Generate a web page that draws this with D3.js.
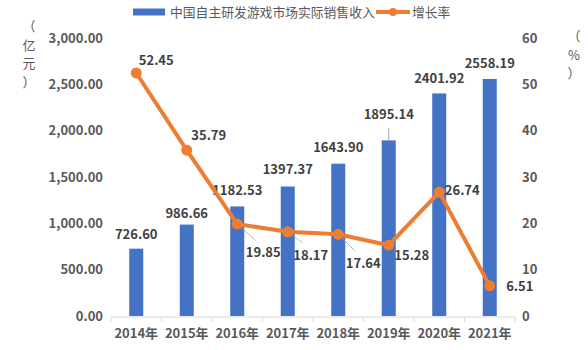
<!DOCTYPE html>
<html>
<head>
<meta charset="utf-8">
<script src="https://cdn.jsdelivr.net/npm/d3@7"></script>
<style>
  body { margin: 0; background: #fff; }
  text { font-family: "Noto Sans CJK SC", "Noto Sans", sans-serif; }
</style>
</head>
<body>
<div id="chart"></div>
<script>
// 数据
const years = ['2014年', '2015年', '2016年', '2017年', '2018年', '2019年', '2020年', '2021年'];
const revenue = [726.60, 986.66, 1182.53, 1397.37, 1643.90, 1895.14, 2401.92, 2558.19];
const growth = [52.45, 35.79, 19.85, 18.17, 17.64, 15.28, 26.74, 6.51];
const leftTicks = [0, 500, 1000, 1500, 2000, 2500, 3000];
const rightTicks = [0, 10, 20, 30, 40, 50, 60];

const width = 588, height = 350;
const margin = { top: 38, right: 73, bottom: 34, left: 111 };
const innerW = width - margin.left - margin.right;
const innerH = height - margin.top - margin.bottom;

const barColor = '#4472C4';
const lineColor = '#ED7D31';

const svg = d3.select('#chart').append('svg')
  .attr('width', width)
  .attr('height', height);

const g = svg.append('g')
  .attr('transform', `translate(${margin.left},${margin.top})`);

// 比例尺
const x = d3.scaleBand().domain(years).range([0, innerW]).paddingInner(0).paddingOuter(0);
const yL = d3.scaleLinear().domain([0, 3000]).range([innerH, 0]);
const yR = d3.scaleLinear().domain([0, 60]).range([innerH, 0]);

// 左轴
const leftAxis = g.append('g')
  .call(d3.axisLeft(yL).tickValues(leftTicks).tickSize(0).tickPadding(8)
    .tickFormat(d3.format(',.2f')));
leftAxis.select('.domain').remove();
leftAxis.selectAll('text')
  .attr('fill', '#595959').style('font-size', '13px').style('font-weight', '600');

// 右轴
const rightAxis = g.append('g')
  .attr('transform', `translate(${innerW},0)`)
  .call(d3.axisRight(yR).tickValues(rightTicks).tickSize(0).tickPadding(7));
rightAxis.select('.domain').remove();
rightAxis.selectAll('text')
  .attr('fill', '#595959').style('font-size', '13px').style('font-weight', '600');

// x 轴
const xAxis = g.append('g')
  .attr('transform', `translate(0,${innerH + 1})`);
xAxis.append('line')
  .attr('x1', 0).attr('x2', innerW)
  .attr('stroke', '#d9d9d9');
xAxis.selectAll('.tk')
  .data(d3.range(years.length + 1))
  .join('line')
  .attr('class', 'tk')
  .attr('x1', i => i * x.bandwidth()).attr('x2', i => i * x.bandwidth())
  .attr('y1', 0).attr('y2', 5)
  .attr('stroke', '#d9d9d9');
xAxis.selectAll('text')
  .data(years)
  .join('text')
  .attr('x', d => x(d) + x.bandwidth() / 2)
  .attr('y', 21)
  .attr('text-anchor', 'middle')
  .attr('fill', '#595959')
  .style('font-size', '13px')
  .style('font-weight', '600')
  .text(d => d);

// 柱子
const barW = 14;
g.selectAll('.bar')
  .data(revenue)
  .join('rect')
  .attr('class', 'bar')
  .attr('x', (d, i) => x(years[i]) + x.bandwidth() / 2 - barW / 2)
  .attr('y', d => yL(d))
  .attr('width', barW)
  .attr('height', d => innerH - yL(d))
  .attr('fill', barColor);

// 柱子标签
const barLabelDy = [-10, -7, -11, -13, -12, -13, -10, -11];
g.selectAll('.bar-label')
  .data(revenue)
  .join('text')
  .attr('class', 'bar-label')
  .attr('x', (d, i) => x(years[i]) + x.bandwidth() / 2)
  .attr('y', (d, i) => yL(d) + barLabelDy[i] - (i === 5 ? 8 : 0))
  .attr('text-anchor', 'middle')
  .attr('fill', '#404040')
  .style('font-size', '13px')
  .style('font-weight', '600')
  .text(d => d.toFixed(2));

// 1895.14 引导线
g.append('line')
  .attr('x1', x(years[5]) + x.bandwidth() / 2)
  .attr('x2', x(years[5]) + x.bandwidth() / 2)
  .attr('y1', yL(revenue[5]) - 12)
  .attr('y2', yL(revenue[5]))
  .attr('stroke', '#a6a6a6');

// 折线
const cx = i => x(years[i]) + x.bandwidth() / 2;
const line = d3.line()
  .x((d, i) => cx(i))
  .y(d => yR(d));

// 折线标签位置偏移
const lblOff = [[20, -13], [22, -15], [26, 28], [23, 23], [25, 29], [23, 10], [23, -2], [30, 0]];

// 引导线 (19.85, 18.17, 17.64)
[2, 3, 4].forEach(i => {
  g.append('line')
    .attr('x1', cx(i)).attr('y1', yR(growth[i]))
    .attr('x2', cx(i) + lblOff[i][0] - 8).attr('y2', yR(growth[i]) + lblOff[i][1] - 12)
    .attr('stroke', '#a6a6a6')
    .attr('stroke-width', 0.8);
});

g.append('path')
  .datum(growth)
  .attr('d', line)
  .attr('fill', 'none')
  .attr('stroke', lineColor)
  .attr('stroke-width', 4)
  .attr('stroke-linejoin', 'round');

g.selectAll('.dot')
  .data(growth)
  .join('circle')
  .attr('class', 'dot')
  .attr('cx', (d, i) => cx(i))
  .attr('cy', d => yR(d))
  .attr('r', 5.5)
  .attr('fill', lineColor);

g.selectAll('.line-label')
  .data(growth)
  .join('text')
  .attr('class', 'line-label')
  .attr('x', (d, i) => cx(i) + lblOff[i][0])
  .attr('y', (d, i) => yR(d) + lblOff[i][1] + 5)
  .attr('text-anchor', 'middle')
  .attr('fill', '#404040')
  .style('font-size', '13px')
  .style('font-weight', '600')
  .text(d => d.toFixed(2));

// 轴标题 (竖排)
const leftTitle = ['（', '亿', '元', '）'];
svg.selectAll('.lt')
  .data(leftTitle)
  .join('text')
  .attr('class', 'lt')
  .attr('x', 29)
  .attr('y', (d, i) => 31 + i * 18.5)
  .attr('text-anchor', 'middle')
  .attr('fill', '#595959')
  .style('font-size', '13px')
  .text(d => d);

const rightTitle = ['（', '%', '）'];
svg.selectAll('.rt')
  .data(rightTitle)
  .join('text')
  .attr('class', 'rt')
  .attr('x', 574)
  .attr('y', (d, i) => 41 + i * 18.5)
  .attr('text-anchor', 'middle')
  .attr('fill', '#595959')
  .style('font-size', '13px')
  .text(d => d);

// 图例
const legend = svg.append('g').attr('transform', 'translate(133,12)');
legend.append('rect')
  .attr('x', 0).attr('y', -3.5)
  .attr('width', 32).attr('height', 7)
  .attr('fill', barColor);
legend.append('text')
  .attr('x', 37).attr('y', 4.5)
  .attr('fill', '#595959')
  .style('font-size', '12.8px')
  .text('中国自主研发游戏市场实际销售收入');
legend.append('line')
  .attr('x1', 243).attr('x2', 277)
  .attr('stroke', lineColor).attr('stroke-width', 4);
legend.append('circle')
  .attr('cx', 260).attr('r', 4)
  .attr('fill', lineColor);
legend.append('text')
  .attr('x', 279).attr('y', 4.5)
  .attr('fill', '#595959')
  .style('font-size', '12.8px')
  .text('增长率');
</script>
</body>
</html>
